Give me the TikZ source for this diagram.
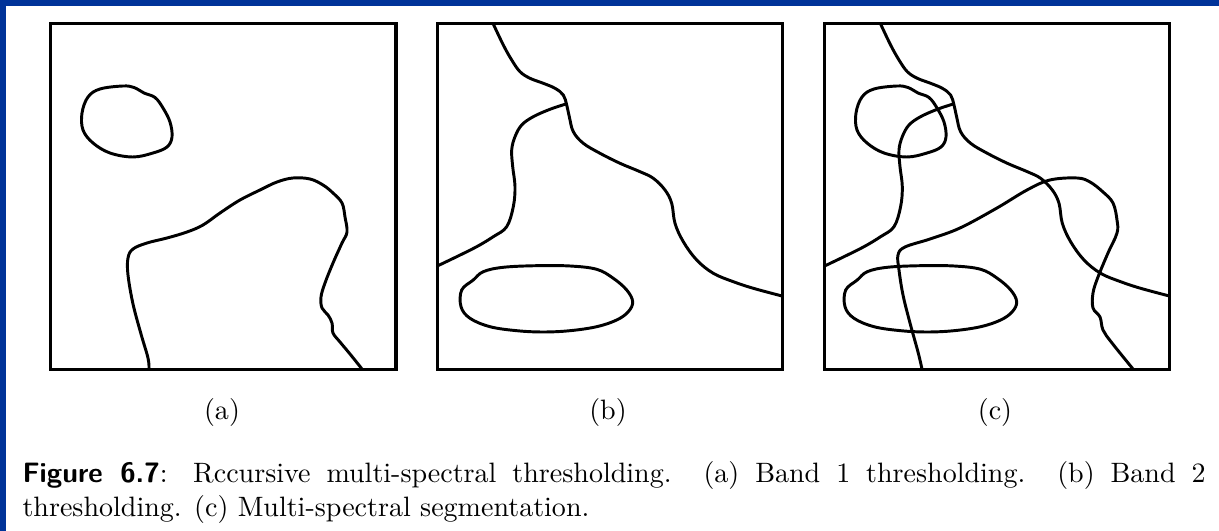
\documentclass[tikz,border=0pt]{standalone}
\usepackage{tikz}
\definecolor{frameblue}{RGB}{0,51,153}
\begin{document}
\begin{tikzpicture}[x=0.3567pt,y=-0.3567pt,
  panelbox/.style={line width=1.15pt},
  contour/.style={line width=1.05pt, line join=round, line cap=round},
  sublabel/.style={font=\fontsize{10}{12}\selectfont, inner sep=0, anchor=base}]
\useasboundingbox (0,0) rectangle (1219,531);
\fill[white] (0,0) rectangle (1219,531);
\fill[frameblue] (0,0) rectangle (1219,6);
\fill[frameblue] (0,0) rectangle (6,531);

% panel frames
\draw[panelbox] (50.7,23.3) rectangle (396,369.3);
\draw[panelbox] (437.3,23.3) rectangle (782.3,369.3);
\draw[panelbox] (824.7,23.3) rectangle (1169.3,369.3);

% small blob (a) and (c)
\foreach \dx in {0,774}{
\draw[contour, shift={(\dx,0)}] plot[smooth cycle, tension=0.6] coordinates {
 (123,86) (134,87.5) (144,93) (155,97.5) (163,108) (170,122) (172,137) (167,147)
 (153,153) (133,157) (110,153) (93,143) (83,130) (82,113) (88,97) (100,89)};
}
% large shape (a)
\draw[contour] plot[smooth, tension=0.6] coordinates {
 (149,369) (148,358) (141,334) (133,304) (128,275) (128,258) (133,249) (147,243)
 (167,238) (187,232) (203,225) (220,213) (240,200) (260,190) (277,182) (293,178)
 (310,179) (323,185) (333,193) (342,203) (345,217) (347,232) (342,243) (333,263)
 (325,283) (321,297) (322,308) (328,315) (332,323) (333,333) (340,342) (350,354) (362,369)};
% large shape (c)
\draw[contour] plot[smooth, tension=0.6] coordinates {
 (922,369) (918,352) (910,323) (903,295) (899,270) (898,255) (905,247) (930,239)
 (960,228) (997,208) (1027,190) (1050,180) (1077,178) (1090,182) (1103,192) (1113,203)
 (1117,220) (1117,233) (1108,253) (1098,277) (1093,293) (1093,308) (1100,317)
 (1103,330) (1112,343) (1133,369)};

% band 2 curves, (b) and (c)
\foreach \dx in {0,387.3}{
\begin{scope}[shift={(\dx,0)}]
\draw[contour] plot[smooth, tension=0.6] coordinates {
 (493.3,24) (503.3,45) (511.7,60) (520,71.7) (530,78.3) (543.3,83.3) (555,88.3)
 (563.3,95) (566.7,105) (569.3,116.7) (573.3,131.7) (583.3,143.3) (600,153.3)
 (620,163.3) (640,171.7) (653.3,178.3) (665,190) (671.7,203.3) (675,223.3)
 (683.3,241.7) (696.7,260) (713.3,273.3) (733.3,281.7) (753.3,288.3) (782,296)};
\draw[contour] plot[smooth, tension=0.6] coordinates {
 (566,104) (550,109.3) (533.3,116.7) (521.7,125) (515,136.7) (511.7,150)
 (512.7,166.7) (515,186.7) (513.3,206.7) (506.7,226.7) (493.3,236.7)
 (476.7,246.7) (456.7,256.7) (437.3,266)};
\end{scope}
}
\foreach \dx in {0,384}{
\draw[contour, shift={(\dx,0)}] plot[smooth cycle, tension=0.6] coordinates {
 (483.3,271.7) (503.3,267.3) (536.7,265.7) (570,266) (596.7,269.3) (613.3,278.3)
 (626.7,290) (632.7,301.7) (628.3,311.7) (616.7,320) (596.7,326.7) (570,330.7)
 (543.3,332) (516.7,330.7) (490,326.7) (470,318.3) (461,306.7) (461.7,290) (473.3,280)};
}

% sub-labels
\node[sublabel] (la) at (222,420) {(a)};
\node[sublabel] (lb) at (608,420) {(b)};
\node[sublabel] (lc) at (995,420) {(c)};

% caption
\node[anchor=north west, inner sep=0, text width=422pt, align=justify,
      font=\fontsize{10}{12}\selectfont] (cap) at (22,461)
 {\textsf{\textbf{Figure 6.7}}: Rccursive multi-spectral thresholding.\ \ (a) Band 1 thresholding.\ \ (b) Band~2\linebreak thresholding. (c) Multi-spectral segmentation.};
\end{tikzpicture}
\end{document}
